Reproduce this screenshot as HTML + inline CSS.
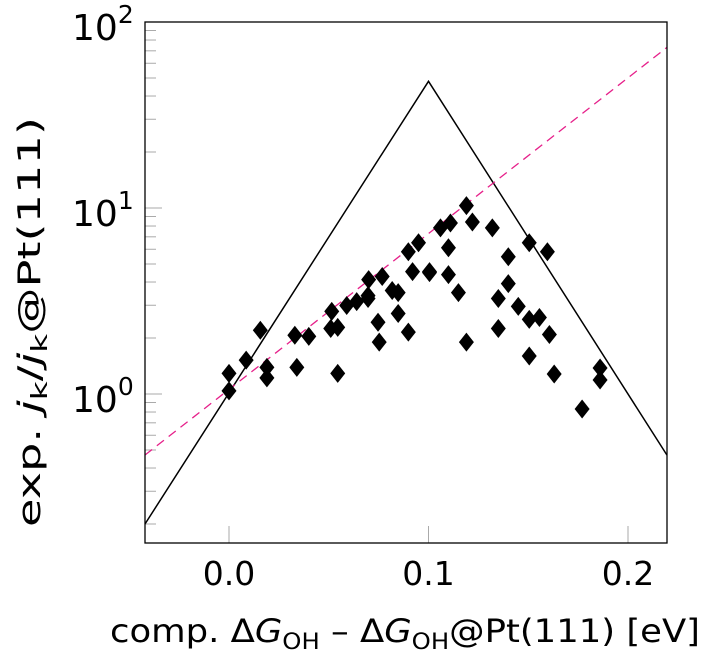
<!DOCTYPE html>
<html><head><meta charset="utf-8"><style>
body{margin:0;background:#fff;}
svg{display:block;font-family:"DejaVu Sans","Liberation Sans",sans-serif;}
</style></head><body>
<svg width="703" height="656" viewBox="0 0 703 656">
<g id="axes"></g>
<g id="marks"></g>
<rect x="145" y="22" width="522" height="521" fill="none" stroke="#000" stroke-width="1.3"/>
<text x="110" y="642" font-size="32" textLength="590" lengthAdjust="spacingAndGlyphs">comp. Δ<tspan font-style="italic">G</tspan><tspan font-size="22" dy="7">OH</tspan><tspan dy="-7"> – Δ</tspan><tspan font-style="italic">G</tspan><tspan font-size="22" dy="7">OH</tspan><tspan dy="-7">@Pt(111) [eV]</tspan></text>
<text transform="translate(40,527) rotate(-90)" font-size="31" textLength="410" lengthAdjust="spacingAndGlyphs">exp. <tspan font-style="italic">j</tspan><tspan font-size="22" dy="7">k</tspan><tspan dy="-7">/</tspan><tspan font-style="italic">j</tspan><tspan font-size="22" dy="7">k</tspan><tspan dy="-7">@Pt(111)</tspan></text>
</svg>
<script>
const xVals=[0.0,0.0,0.0086,0.0157,0.019,0.019,0.033,0.040,0.034,0.0515,0.051,0.0545,0.0545,0.059,0.064,0.070,0.0697,0.0697,0.0768,0.0747,0.0753,0.0818,0.0848,0.0848,0.0899,0.0899,0.095,0.092,0.1005,0.106,0.119,0.111,0.122,0.132,0.1505,0.1596,0.110,0.140,0.1005,0.110,0.115,0.140,0.135,0.145,0.1505,0.1556,0.135,0.1606,0.119,0.1505,0.163,0.186,0.186,0.177];
const yVals=[1.29,1.04,1.52,2.20,1.39,1.22,2.07,2.04,1.39,2.78,2.25,2.28,1.29,2.99,3.14,4.12,3.38,3.26,4.28,2.43,1.90,3.60,3.51,2.71,2.15,5.82,6.50,4.55,4.49,7.82,10.3,8.31,8.41,7.82,6.50,5.82,6.11,5.47,4.55,4.38,3.51,3.92,3.26,2.96,2.52,2.58,2.25,2.09,1.90,1.60,1.28,1.38,1.19,0.83];
const xTicks=[0.0,0.1,0.2];
const xTickLabels=["0.0","0.1","0.2"];
const yDecades=[0,1,2];
const triangle=[[-0.0421,0.2],[0.1,48],[0.2195,0.47]];
const fitLine=[[-0.0421,0.47],[0.2195,73]];
const NS="http://www.w3.org/2000/svg";
const X=v=>229+1995*v;
const Y=v=>394-186*Math.log10(v);
function mk(t,a,p){const e=document.createElementNS(NS,t);for(const k in a)e.setAttribute(k,a[k]);p.appendChild(e);return e;}
const marks=document.getElementById('marks'),axes=document.getElementById('axes');
const tri=mk('polyline',{points:triangle.map(p=>X(p[0])+','+Y(p[1])).join(' '),fill:'none',stroke:'#000','stroke-width':1.5},marks);


const fl=mk('line',{x1:X(fitLine[0][0]),y1:Y(fitLine[0][1]),x2:X(fitLine[1][0]),y2:Y(fitLine[1][1]),stroke:'#e6208a','stroke-width':1.3,'stroke-dasharray':'9,6'},marks);


xVals.forEach((xv,i)=>{const cx=X(xv),cy=Y(yVals[i]);
const d=mk('polygon',{points:`${cx},${cy-9.5} ${cx+7.5},${cy} ${cx},${cy+9.5} ${cx-7.5},${cy}`,fill:'#000'},marks);

});
xTicks.forEach((t,i)=>{const x=X(t);
mk('line',{x1:x,y1:543,x2:x,y2:526,stroke:'#aaa','stroke-width':1},axes);
const tx=mk('text',{x:x,y:585,'text-anchor':'middle','font-size':33},axes);tx.textContent=xTickLabels[i];

});
yDecades.forEach(d=>{const y=Y(Math.pow(10,d));
mk('line',{x1:145,y1:y,x2:162,y2:y,stroke:'#aaa'},axes);
const tx=mk('text',{x:72,y:y+18,'font-size':36},axes);
tx.innerHTML='10<tspan font-size="25" dy="-17">'+d+'</tspan>';

});
for(let d=-1;d<=1;d++)for(let m=2;m<=9;m++){const y=Y(m*Math.pow(10,d));if(y>543||y<22)continue;
mk('line',{x1:145,y1:y,x2:156,y2:y,stroke:'#aaa','stroke-width':1},axes);}
</script>
</body></html>
